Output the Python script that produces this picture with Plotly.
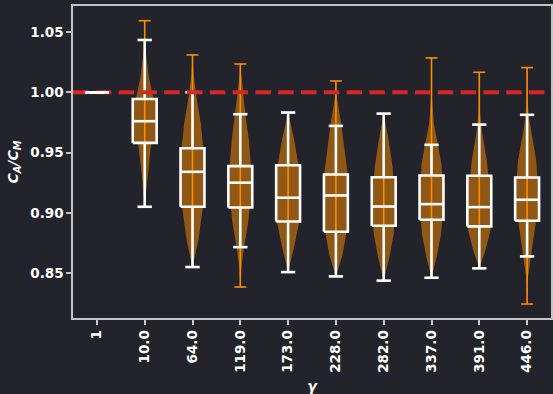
import plotly.graph_objects as go

# ---------------- data ----------------
categories = ["1", "10.0", "64.0", "119.0", "173.0", "228.0", "282.0", "337.0", "391.0", "446.0"]

q1 = [1.0, 0.958, 0.905, 0.9044, 0.8928, 0.8843, 0.8893, 0.8942, 0.8887, 0.8934]
median = [1.0, 0.976, 0.934, 0.925, 0.9125, 0.9144, 0.9052, 0.9072, 0.9047, 0.9108]
q3 = [1.0, 0.9944, 0.9536, 0.9387, 0.9395, 0.9318, 0.9295, 0.931, 0.9307, 0.9293]
whisker_low = [1.0, 0.905, 0.855, 0.8715, 0.8508, 0.8472, 0.8437, 0.8461, 0.8539, 0.8638]
whisker_high = [1.0, 1.0434, 1.0, 0.9818, 0.9832, 0.9721, 0.9823, 0.9564, 0.9732, 0.9813]
data_min = [1.0, 0.905, 0.855, 0.8384, 0.8508, 0.8472, 0.8437, 0.8461, 0.8539, 0.8243]
data_max = [1.0, 1.0594, 1.031, 1.0235, 0.9832, 1.0094, 0.9823, 1.0285, 1.0166, 1.0205]

# violin density profiles (value levels, relative density 0..1)
violin_levels = [
    None,
    [0.905, 0.935, 0.954, 0.976, 0.994, 1.012, 1.035, 1.0594],
    [0.855, 0.877, 0.905, 0.934, 0.954, 0.974, 0.999, 1.0155, 1.031],
    [0.8384, 0.855, 0.8715, 0.891, 0.925, 0.96, 0.982, 1.0014, 1.0235],
    [0.8508, 0.871, 0.891, 0.9125, 0.942, 0.9615, 0.9832],
    [0.8472, 0.865, 0.8845, 0.9144, 0.932, 0.974, 0.9956, 1.0094],
    [0.8437, 0.863, 0.8825, 0.905, 0.9378, 0.96, 0.9823],
    [0.8461, 0.863, 0.8825, 0.907, 0.9408, 0.957, 0.974, 0.995, 1.0285],
    [0.8539, 0.8687, 0.8853, 0.9047, 0.9434, 0.9655, 0.985, 1.0166],
    [0.8243, 0.8467, 0.8638, 0.8853, 0.9108, 0.9434, 0.9655, 0.9813, 1.0, 1.0205],
]
violin_density = [
    None,
    [0.0, 0.28, 0.5, 1.0, 0.75, 0.36, 0.08, 0.0],
    [0.0, 0.49, 0.87, 1.0, 0.9, 0.7, 0.28, 0.1, 0.0],
    [0.0, 0.1, 0.3, 0.65, 1.0, 0.72, 0.42, 0.2, 0.0],
    [0.0, 0.49, 0.9, 1.0, 0.83, 0.49, 0.0],
    [0.0, 0.55, 0.9, 1.0, 0.98, 0.44, 0.08, 0.0],
    [0.0, 0.47, 0.83, 1.0, 0.75, 0.42, 0.0],
    [0.0, 0.42, 0.8, 1.0, 0.83, 0.53, 0.2, 0.04, 0.0],
    [0.0, 0.51, 0.93, 1.0, 0.63, 0.25, 0.05, 0.0],
    [0.0, 0.08, 0.32, 0.63, 1.0, 0.76, 0.35, 0.12, 0.03, 0.0],
]

reference_ratio = 1.0

# ---------------- styles ----------------
BG = "#22232b"
AXIS = "#c4c4c4"
ORANGE = "#ff8c00"
VIOLIN_FILL = "rgba(255,140,0,0.5)"
BROWN = "rgb(144,87,21)"
RED = "#d62728"
FONT = "DejaVu Sans"
VIOLIN_HALF = 0.25
CAP_HALF = 0.125
BOX_HALF = 0.25
WCAP_HALF = 0.15

positions = list(range(len(categories)))
vi = [i for i in positions if violin_levels[i] is not None]

fig = go.Figure()

# violin bodies
vx, vy = [], []
for i in vi:
    lv, dn = violin_levels[i], violin_density[i]
    vx += [i + VIOLIN_HALF * d for d in dn] + [i - VIOLIN_HALF * d for d in reversed(dn)] + [None]
    vy += list(lv) + list(reversed(lv)) + [None]
fig.add_trace(go.Scatter(x=vx, y=vy, fill="toself", fillcolor=VIOLIN_FILL, mode="lines",
                         line=dict(width=0), hoverinfo="skip", showlegend=False))

# box fills
fx, fy = [], []
for i in vi:
    fx += [i - BOX_HALF, i + BOX_HALF, i + BOX_HALF, i - BOX_HALF, i - BOX_HALF, None]
    fy += [q1[i], q1[i], q3[i], q3[i], q1[i], None]
fig.add_trace(go.Scatter(x=fx, y=fy, fill="toself", fillcolor=BROWN, mode="lines",
                         line=dict(width=0), hoverinfo="skip", showlegend=False))

# orange extrema bars and caps
bx, by = [], []
for i in vi:
    bx += [i, i, None]
    by += [data_min[i], data_max[i], None]
    for v in (data_min[i], data_max[i]):
        bx += [i - CAP_HALF, i + CAP_HALF, None]
        by += [v, v, None]
fig.add_trace(go.Scatter(x=bx, y=by, mode="lines", line=dict(color=ORANGE, width=1.6),
                         hoverinfo="skip", showlegend=False))


def box_path(idx):
    xs, ys = [], []
    for i in idx:
        # box outline
        xs += [i - BOX_HALF, i + BOX_HALF, i + BOX_HALF, i - BOX_HALF, i - BOX_HALF, None]
        ys += [q1[i], q1[i], q3[i], q3[i], q1[i], None]
        # median
        xs += [i - BOX_HALF, i + BOX_HALF, None]
        ys += [median[i], median[i], None]
        # whiskers
        xs += [i, i, None, i, i, None]
        ys += [q3[i], whisker_high[i], None, q1[i], whisker_low[i], None]
        # whisker caps
        xs += [i - WCAP_HALF, i + WCAP_HALF, None, i - WCAP_HALF, i + WCAP_HALF, None]
        ys += [whisker_high[i], whisker_high[i], None, whisker_low[i], whisker_low[i], None]
    return xs, ys


wx, wy = box_path(vi)
fig.add_trace(go.Scatter(x=wx, y=wy, mode="lines", line=dict(color="white", width=2.6),
                         hoverinfo="skip", showlegend=False))

# reference line
fig.add_trace(go.Scatter(x=[-0.5, len(categories) - 0.5], y=[reference_ratio, reference_ratio],
                         mode="lines", line=dict(color=RED, width=4, dash="15.5px,7.3px"),
                         hoverinfo="skip", showlegend=False))

# first category (degenerate box), drawn on top
ox, oy = box_path([0])
fig.add_trace(go.Scatter(x=ox, y=oy, mode="lines", line=dict(color="white", width=2.6),
                         hoverinfo="skip", showlegend=False))

tickfont = dict(family=FONT, size=13.5, color="white", weight="bold")

fig.update_layout(
    width=553, height=394,
    margin=dict(l=73, r=0, t=6, b=76),
    paper_bgcolor=BG, plot_bgcolor=BG,
    showlegend=False,
    xaxis=dict(range=[-0.5, len(categories) - 0.5], tickvals=positions, ticktext=categories,
               tickangle=-90, tickfont=tickfont, showgrid=False, zeroline=False,
               showline=True, linecolor=AXIS, linewidth=1.5, mirror=True,
               ticks="outside", ticklen=5, tickwidth=1.5, tickcolor=AXIS,
               title=dict(text="<b><i>γ</i></b>", font=dict(family=FONT, size=14, color="white"),
                          standoff=10)),
    yaxis=dict(range=[0.8127, 1.0716], tickvals=[0.85, 0.90, 0.95, 1.00, 1.05],
               ticktext=["0.85", "0.90", "0.95", "1.00", "1.05"],
               tickfont=tickfont, showgrid=False, zeroline=False,
               showline=True, linecolor=AXIS, linewidth=1.5, mirror=True,
               ticks="outside", ticklen=5, tickwidth=1.5, tickcolor=AXIS,
               title=dict(text="<b><i>C<sub>A</sub>/C<sub>M</sub></i></b>",
                          font=dict(family=FONT, size=14, color="white"), standoff=8)),
)

fig.write_html("out.html")
